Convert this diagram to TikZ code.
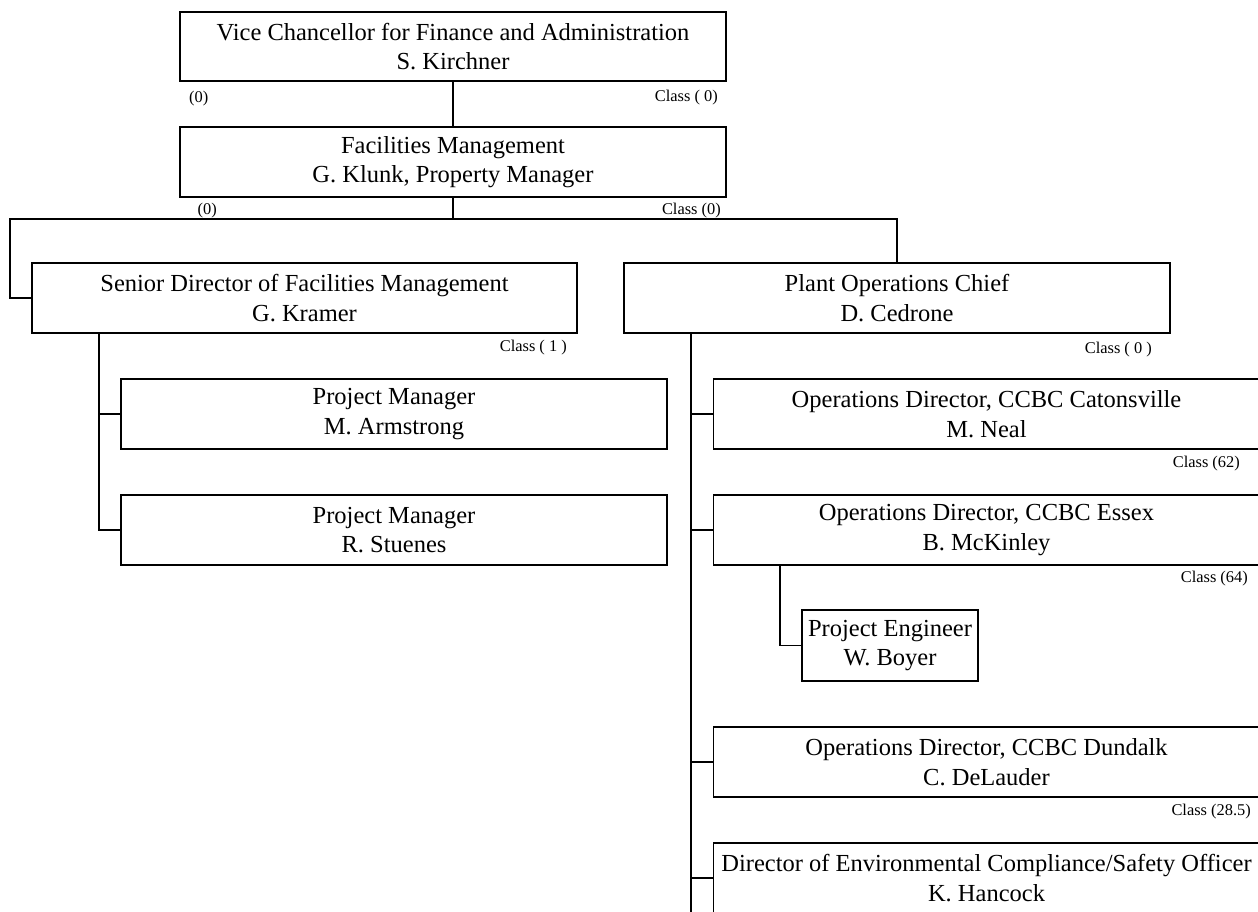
\documentclass[tikz,border=0pt]{standalone}
\usepackage{fontspec}
\setmainfont{Liberation Serif}
\begin{document}
\begin{tikzpicture}[x=1pt,y=-1pt,
  box/.style={draw, line width=1.7pt, inner sep=0pt, align=center,
    minimum width=546pt, minimum height=69pt,
    font=\fontsize{24.5}{29.5}\selectfont},
  lab/.style={inner sep=0pt, font=\fontsize{16.4}{18}\selectfont},
  conn/.style={line width=1.7pt}]
\useasboundingbox (0,0) rectangle (1258,911);
% boxes
\node[box] (vc) at (453,46.5) {Vice Chancellor for Finance and Administration\\S. Kirchner};
\node[box, minimum height=70pt] (fm) at (453,162) {Facilities Management\\G. Klunk, Property Manager};
\node[box, minimum width=545pt, minimum height=70pt] (sd) at (304.5,298) {Senior Director of Facilities Management\\G. Kramer};
\node[box, minimum height=70pt] (po) at (897,298) {Plant Operations Chief\\D. Cedrone};
\node[box, minimum height=70pt] (pm1) at (394,414) {Project Manager\\M. Armstrong};
\node[box, minimum height=70pt] (pm2) at (394,530) {Project Manager\\R. Stuenes};
\node[box, minimum height=70pt] (cat) at (986.5,414) {Operations Director, CCBC Catonsville\\M. Neal};
\node[box, minimum height=70pt] (ess) at (986.5,530) {Operations Director, CCBC Essex\\B. McKinley};
\node[box, minimum width=176pt, minimum height=71pt] (boy) at (890,645.5) {Project Engineer\\W. Boyer};
\node[box, minimum height=70pt] (dun) at (986.5,762) {Operations Director, CCBC Dundalk\\C. DeLauder};
\node[box, minimum height=70pt] (env) at (986.5,878) {Director of Environmental Compliance/Safety Officer\\K. Hancock};
% labels
\node[lab, anchor=west] (l1) at (189,98.5) {(0)};
\node[lab, anchor=east] (l2) at (718,98) {Class ( 0)};
\node[lab, anchor=west] (l3) at (197.5,211) {(0)};
\node[lab, anchor=east] (l4) at (721,211) {Class (0)};
\node[lab, anchor=east] (l5) at (567,348) {Class ( 1 )};
\node[lab, anchor=east] (l6) at (1152,350) {Class ( 0 )};
\node[lab, anchor=east] (l7) at (1240,464) {Class (62)};
\node[lab, anchor=east] (l8) at (1248,579) {Class (64)};
\node[lab, anchor=east] (l9) at (1251,812) {Class (28.5)};
% connectors
\coordinate (busM) at (453,219);
\coordinate (busL) at (10,219);
\coordinate (busR) at (897,219);
\coordinate (st) at (99,333);
\coordinate (pt) at (691,333);
\coordinate (pbot) at (691,915);
\coordinate (et) at (780,564);
\draw[conn] (vc.south) -- (fm.north);
\draw[conn] (fm.south) -- (busM);
\draw[conn] (sd.west) -| (busL) -- (busR) -- (po.north);
\draw[conn] (st) |- (pm1.west);
\draw[conn] (st) |- (pm2.west);
\draw[conn] (pt) -- (pbot);
\draw[conn] (pt) |- (cat.west);
\draw[conn] (pt) |- (ess.west);
\draw[conn] (pt) |- (dun.west);
\draw[conn] (pt) |- (env.west);
\draw[conn] (et) |- (boy.west);
\end{tikzpicture}
\end{document}
